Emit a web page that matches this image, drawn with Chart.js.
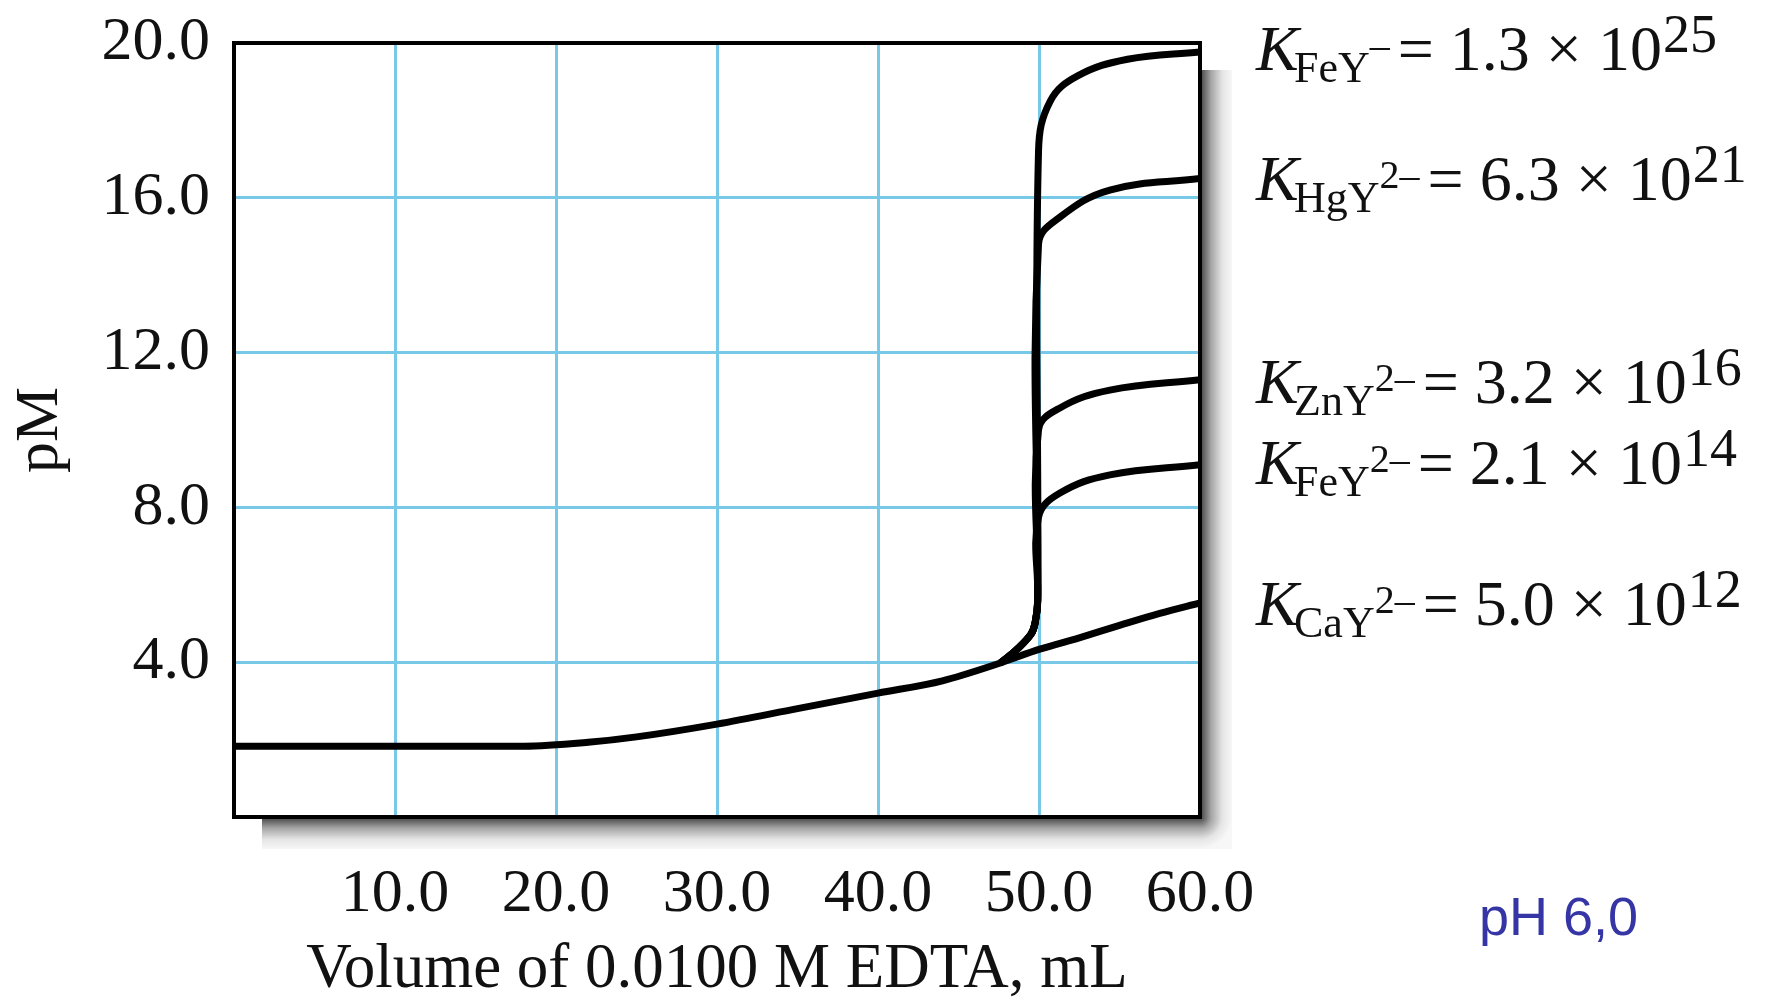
<!DOCTYPE html>
<html>
<head>
<meta charset="utf-8">
<script src="https://cdn.jsdelivr.net/npm/chart.js@4"></script>
<style>
  html, body { margin: 0; padding: 0; background: #fff; }
  #wrap { width: 1766px; height: 1002px; }
</style>
</head>
<body>
<div id="wrap"><canvas id="myChart" width="1766" height="1002"></canvas></div>
<script>
// values (volume in mL, pM)
const commonVol = [0, 10, 18, 22, 25, 30, 35, 40, 44, 47.6];
const commonPM = [1.83, 1.83, 1.83, 1.93, 2.07, 2.4, 2.8, 3.2, 3.52, 3.98];

const caVol = [50, 52.5, 55, 57.5, 60];
const caPM = [4.33, 4.63, 4.95, 5.26, 5.53];

// shared rise towards the equivalence point
const riseVol = [48.6, 49.5, 49.75, 49.92];
const risePM = [4.32, 4.72, 5.0, 5.6];

const fe3Vol = [49.97, 50.7, 52.4, 55.5, 60];
const fe3PM = [17.2, 18.5, 19.15, 19.58, 19.77];
const hgVol = [49.97, 51.3, 54.4, 60];
const hgPM = [14.8, 15.5, 16.2, 16.5];
const znVol = [49.97, 51.3, 54.4, 60];
const znPM = [10.0, 10.57, 11.03, 11.3];
const fe2Vol = [49.97, 51.3, 54.4, 60];
const fe2PM = [7.75, 8.37, 8.84, 9.1];

const xTicks = [10, 20, 30, 40, 50, 60];
const yTicks = [4, 8, 12, 16, 20];

// label text: subscript, charge, mantissa, exponent
const kSubs = ["FeY", "HgY", "ZnY", "FeY", "CaY"];
const kCharges = ["–", "2–", "2–", "2–", "2–"];
const kMants = ["1.3", "6.3", "3.2", "2.1", "5.0"];
const kExps = ["25", "21", "16", "14", "12"];
const kBaselines = [70, 200, 403, 484, 625];

function pts(xs, ys) {
  return xs.map((x, i) => ({ x: x, y: ys[i] }));
}

function branch(vol, pm) {
  const start = { x: commonVol[commonVol.length - 1], y: commonPM[commonPM.length - 1] };
  return [start].concat(pts(riseVol, risePM), pts(vol, pm));
}

const serif = '"Liberation Serif", "Times New Roman", serif';

const boxPlugin = {
  id: "box",
  beforeDraw(chart) {
    const { ctx, chartArea: a } = chart;
    const d = 32;
    const stops = (g) => {
      g.addColorStop(0, "rgba(0,0,0,0.75)");
      g.addColorStop(0.35, "rgba(0,0,0,0.35)");
      g.addColorStop(0.7, "rgba(0,0,0,0.1)");
      g.addColorStop(1, "rgba(0,0,0,0.03)");
      return g;
    };
    ctx.save();
    ctx.fillStyle = stops(ctx.createLinearGradient(0, a.bottom, 0, a.bottom + d));
    ctx.fillRect(a.left + 28, a.bottom, a.right - a.left - 28, d);
    ctx.fillStyle = stops(ctx.createLinearGradient(a.right, 0, a.right + d, 0));
    ctx.fillRect(a.right, a.top + 27, d, a.bottom - a.top - 27);
    ctx.fillStyle = stops(ctx.createRadialGradient(a.right, a.bottom, 0, a.right, a.bottom, d));
    ctx.fillRect(a.right, a.bottom, d, d);
    ctx.fillStyle = "#fff";
    ctx.fillRect(a.left, a.top, a.right - a.left, a.bottom - a.top);
    ctx.restore();
  },
  afterDatasetsDraw(chart) {
    const { ctx, chartArea: a } = chart;
    ctx.save();
    ctx.strokeStyle = "#000";
    ctx.lineWidth = 4;
    ctx.strokeRect(a.left, a.top, a.right - a.left, a.bottom - a.top);
    ctx.restore();
  },
  afterDraw(chart) {
    const { ctx, chartArea: a } = chart;
    ctx.save();
    ctx.fillStyle = "#111";
    ctx.textAlign = "left";
    ctx.textBaseline = "alphabetic";
    kSubs.forEach((sub, i) => {
      let x = a.right + 56;
      const y = kBaselines[i];
      ctx.font = "italic 64px " + serif;
      ctx.fillText("K", x, y);
      x += 38;
      ctx.font = "44px " + serif;
      ctx.fillText(sub, x, y + 12);
      x += ctx.measureText(sub).width;
      ctx.font = "40px " + serif;
      ctx.fillText(kCharges[i], x, y - 12);
      x += ctx.measureText(kCharges[i]).width + 8;
      ctx.font = "64px " + serif;
      const mid = "= " + kMants[i] + " × 10";
      ctx.fillText(mid, x, y);
      x += ctx.measureText(mid).width + 1;
      ctx.font = "54px " + serif;
      ctx.fillText(kExps[i], x, y - 18);
    });
    ctx.fillStyle = "#3535a5";
    ctx.font = '54px "Liberation Sans", Arial, sans-serif';
    ctx.fillText("pH 6,0", 1479, 935);
    ctx.restore();
  },
};

const line = {
  borderColor: "#000",
  borderWidth: 7,
  pointRadius: 0,
  fill: false,
  tension: 0.4,
};

const ctx = document.getElementById("myChart");

new Chart(ctx, {
  type: "line",
  data: {
    datasets: [
      Object.assign({}, line, {
        label: "CaY",
        data: pts(commonVol.concat(caVol), commonPM.concat(caPM)),
        cubicInterpolationMode: "monotone",
      }),
      Object.assign({}, line, { label: "FeY2", data: branch(fe2Vol, fe2PM) }),
      Object.assign({}, line, { label: "ZnY", data: branch(znVol, znPM) }),
      Object.assign({}, line, { label: "HgY", data: branch(hgVol, hgPM) }),
      Object.assign({}, line, { label: "FeY", data: branch(fe3Vol, fe3PM) }),
    ],
  },
  options: {
    responsive: false,
    animation: false,
    layout: { padding: { left: 0, right: 566, top: 43, bottom: 0 } },
    plugins: { legend: { display: false }, tooltip: { enabled: false } },
    scales: {
      x: {
        type: "linear",
        min: 0,
        max: 60,
        afterFit: (scale) => { scale.height = 185; },
        afterBuildTicks: (scale) => { scale.ticks = [0].concat(xTicks).map((v) => ({ value: v })); },
        ticks: {
          padding: 41,
          color: "#111",
          font: { family: serif, size: 62 },
          callback: (v) => (v === 0 ? "" : v.toFixed(1)),
        },
        grid: { color: "rgb(120,200,232)", lineWidth: 3, drawTicks: false },
        border: { display: false },
        title: {
          display: true,
          text: "Volume of 0.0100 M EDTA, mL",
          color: "#111",
          font: { family: serif, size: 63, lineHeight: 1 },
          padding: 0,
        },
      },
      y: {
        type: "linear",
        min: 0,
        max: 20,
        afterFit: (scale) => {
          scale.width = 234;
          scale.paddingTop = 0;
          scale.paddingBottom = 0;
        },
        afterBuildTicks: (scale) => { scale.ticks = [0].concat(yTicks).map((v) => ({ value: v })); },
        ticks: {
          padding: 24,
          color: "#111",
          font: { family: serif, size: 62 },
          callback: (v) => (v === 0 ? "" : v.toFixed(1)),
        },
        grid: { color: "rgb(120,200,232)", lineWidth: 3, drawTicks: false },
        border: { display: false },
        title: {
          display: true,
          text: "pM",
          color: "#111",
          font: { family: serif, size: 62, lineHeight: 1.2 },
          padding: { top: 4, bottom: 0 },
        },
      },
    },
  },
  plugins: [boxPlugin],
});
</script>
</body>
</html>
